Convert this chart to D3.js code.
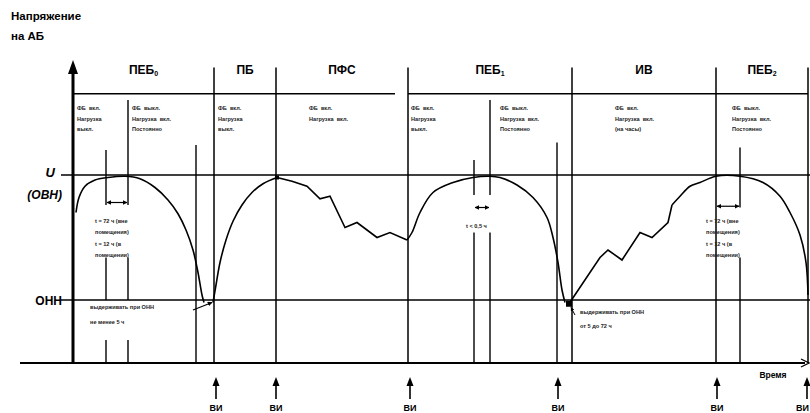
<!DOCTYPE html>
<html><head><meta charset="utf-8">
<script src="https://cdn.jsdelivr.net/npm/d3@7"></script>
<style>body{margin:0;background:#fff}svg{display:block}</style>
</head><body><svg id="c" width="810" height="413"></svg>
<script>
// ---- data (time units, voltage: 0 = ОНН, 1 = U(ОВН)) ----
const phaseNames = ["ПЕБ","ПБ","ПФС","ПЕБ","ИВ","ПЕБ"];
const phaseSubs  = ["0","","","1","","2"];
const phaseBounds = [0,141,203,335,499,643,735];
const viTimes = [143,203,337,485,644,734];

// ПЕБ0 dome
const peb0T = [3,6,12,22,35,52,67,82,95,105,113,120,125,129,131];
const peb0V = [0.70,0.82,0.91,0.96,0.98,0.99,0.97,0.90,0.80,0.69,0.56,0.40,0.22,0.04,-0.02];
// ПБ rise
const pbT = [140,143,147,153,160,169,179,190,204];
const pbV = [-0.02,0.12,0.30,0.48,0.63,0.76,0.86,0.93,0.98];
// ПФС zigzag
const pfsT = [204,219,234,247,257,272,284,304,317,334];
const pfsV = [0.98,0.95,0.91,0.81,0.83,0.58,0.62,0.50,0.54,0.48];
// ПЕБ1 dome
const peb1T = [334,339,347,360,380,400,417,427,444,460,474,480,485,489,492];
const peb1V = [0.48,0.54,0.70,0.86,0.94,0.98,0.99,0.98,0.92,0.82,0.66,0.50,0.30,0.08,-0.02];
// ИВ zigzag
const ivT = [496,527,535,549,567,579,595,599];
const ivV = [-0.03,0.34,0.40,0.32,0.54,0.50,0.62,0.76];
// ПЕБ2 dome
const peb2T = [599,607,617,627,643,667,690,707,717,727,733,735];
const peb2V = [0.76,0.83,0.91,0.94,0.99,0.99,0.94,0.83,0.70,0.52,0.30,0.04];

const notes = [
  {t:4,   lines:["ФБ  вкл.","Нагрузка","выкл."]},
  {t:59,  lines:["ФБ  выкл.","Нагрузка  вкл.","Постоянно"]},
  {t:145, lines:["ФБ  вкл.","Нагрузка","выкл."]},
  {t:236, lines:["ФБ  вкл.","Нагрузка  вкл."]},
  {t:338, lines:["ФБ  вкл.","Нагрузка","выкл."]},
  {t:427, lines:["ФБ  выкл.","Нагрузка  вкл.","Постоянно"]},
  {t:542, lines:["ФБ  вкл.","Нагрузка  вкл.","(на часы)"]},
  {t:659, lines:["ФБ  выкл.","Нагрузка  вкл.","Постоянно"]}
];
const durNotes = ["t = 72 ч (вне","помещения)","t = 12 ч (в","помещении)"];
const shortNote = "t < 0,5 ч";
const holdNote0 = ["выдерживать при ОНН","не менее 5 ч"];
const holdNote1 = ["выдерживать при ОНН","от 5 до 72 ч"];

// ---- drawing ----
const svg = d3.select("#c");
const x = d3.scaleLinear().domain([0,735]).range([73,808]);
const y = d3.scaleLinear().domain([0,1]).range([300,175]);
const vHead = 1.65, vTop = 1.86, vAxis = -0.504;
const F = "'Liberation Sans', Arial, sans-serif";

function ln(x1,y1,x2,y2,w){svg.append("line").attr("x1",x1).attr("y1",y1).attr("x2",x2).attr("y2",y2)
  .attr("stroke","#000").attr("stroke-width",w||1.4);}

// axis title
svg.append("text").attr("x",11).attr("y",20).attr("font-family",F).attr("font-weight","bold")
  .attr("font-size",11.5).text("Напряжение");
svg.append("text").attr("x",11).attr("y",40).attr("font-family",F).attr("font-weight","bold")
  .attr("font-size",11.5).text("на АБ");

// level lines
ln(61,y(1),810,y(1),1.5);
ln(61,y(0),810,y(0),1.5);

// header segments
const headSegs = [[0,141],[141,203],[203,322],[335,499],[499,643],[643,735]];
headSegs.forEach(s=>ln(x(s[0]),y(vHead),x(s[1]),y(vHead),1.6));
// phase separators
phaseBounds.slice(1).forEach(b=>ln(x(b),y(vTop),x(b),y(vAxis),1.5));

// header labels
phaseNames.forEach((n,i)=>{
  const cx = (x(phaseBounds[i])+x(phaseBounds[i+1]))/2;
  const t = svg.append("text").attr("x",cx).attr("y",y(1.81)).attr("text-anchor","middle")
    .attr("font-family",F).attr("font-weight","bold").attr("font-size",12).text(n);
  if(phaseSubs[i]) t.append("tspan").attr("font-size",7).attr("dy",2).text(phaseSubs[i]);
});

// notes
notes.forEach(n=>{
  n.lines.forEach((l,j)=>{
    svg.append("text").attr("x",x(n.t)).attr("y",y(1.52)+j*10.5).attr("font-family",F)
      .attr("font-size",5.6).attr("font-weight","bold").attr("fill","#222")
      .style("white-space","pre").text(l);
  });
});

// extra vertical lines
const vseg = (t,v1,v2)=>ln(x(t),y(v1),x(t),y(v2),1.4);
vseg(33,1.2,0.76); vseg(33,0.34,0); vseg(33,-0.32,vAxis);
vseg(55,1.6,0.76); vseg(55,0.34,0); vseg(55,-0.32,vAxis);
vseg(123,1.24,vAxis);
vseg(401,1.12,0.84); vseg(401,0.54,vAxis);
vseg(417,1.6,0.84); vseg(417,0.54,vAxis);
vseg(484,1.26,vAxis);
vseg(667,1.22,0.74); vseg(667,0.34,vAxis);

// dimension arrows
const defs = svg.append("defs");
defs.append("marker").attr("id","ah").attr("viewBox","0 0 10 10").attr("refX",9).attr("refY",5)
  .attr("markerWidth",4).attr("markerHeight",4).attr("orient","auto-start-reverse")
  .append("path").attr("d","M0,0L10,5L0,10z").attr("fill","#000");
function dim(t1,t2,v){svg.append("line").attr("x1",x(t1)+1).attr("x2",x(t2)-1).attr("y1",y(v)).attr("y2",y(v))
  .attr("stroke","#000").attr("stroke-width",1.2).attr("marker-start","url(#ah)").attr("marker-end","url(#ah)");}
dim(33,55,0.78); dim(401,417,0.74); dim(643,667,0.75);

// duration notes
function noteBlock(t,v,lines,step){lines.forEach((l,j)=>svg.append("text").attr("x",x(t)).attr("y",y(v)+j*step)
  .attr("font-family",F).attr("font-size",5.6).attr("font-weight","bold").attr("fill","#222").text(l));}
noteBlock(22,0.62,durNotes,11.5);
noteBlock(633,0.62,durNotes,11.5);
noteBlock(393,0.58,[shortNote],0);
noteBlock(17,-0.07,holdNote0,15);
noteBlock(507,-0.11,holdNote1,14);

// curves
const line = d3.line().x(d=>x(d[0])).y(d=>y(d[1]));
const zip=(a,b)=>a.map((t,i)=>[t,b[i]]);
[[peb0T,peb0V,d3.curveCatmullRom],[pbT,pbV,d3.curveCatmullRom],[pfsT,pfsV,d3.curveLinear],
 [peb1T,peb1V,d3.curveCatmullRom],[ivT,ivV,d3.curveLinear],[peb2T,peb2V,d3.curveCatmullRom]]
 .forEach(s=>svg.append("path").attr("d",line.curve(s[2])(zip(s[0],s[1])))
   .attr("fill","none").attr("stroke","#000").attr("stroke-width",1.6));

// markers on ОНН
svg.append("rect").attr("x",x(496)-3).attr("y",y(-0.03)-3).attr("width",6).attr("height",6).attr("fill","#000");
svg.append("rect").attr("x",x(204)-2).attr("y",y(0.98)-2).attr("width",4).attr("height",4).attr("fill","#000");
svg.append("line").attr("x1",x(120)).attr("y1",y(-0.08)).attr("x2",x(139)).attr("y2",y(-0.02))
  .attr("stroke","#000").attr("stroke-width",1.2).attr("marker-end","url(#ah)");
svg.append("line").attr("x1",x(502)).attr("y1",y(-0.12)).attr("x2",x(498)).attr("y2",y(-0.06))
  .attr("stroke","#000").attr("stroke-width",1).attr("marker-end","url(#ah)");

// level labels
svg.append("text").attr("x",55).attr("y",y(1)+2).attr("text-anchor","end").attr("font-family",F)
  .attr("font-weight","bold").attr("font-style","italic").attr("font-size",13).text("U");
svg.append("text").attr("x",62).attr("y",y(1)+24).attr("text-anchor","end").attr("font-family",F)
  .attr("font-weight","bold").attr("font-style","italic").attr("font-size",12).text("(ОВН)");
svg.append("text").attr("x",62).attr("y",y(0)+5).attr("text-anchor","end").attr("font-family",F)
  .attr("font-weight","bold").attr("font-size",12).text("ОНН");

// axes
ln(20,y(vAxis),805,y(vAxis),2);
svg.append("path").attr("d",`M${x(728)},${y(vAxis)-4}L${x(736)},${y(vAxis)}L${x(728)},${y(vAxis)+4}`)
  .attr("fill","none").attr("stroke","#000").attr("stroke-width",1.2);
ln(x(0),y(vAxis),x(0),70,3);
svg.append("path").attr("d",`M${x(0)-5},74L${x(0)},60L${x(0)+5},74z`).attr("fill","#000");
svg.append("text").attr("x",773).attr("y",y(vAxis)+15).attr("text-anchor","middle").attr("font-family",F)
  .attr("font-weight","bold").attr("font-size",8.5).text("Время");

// ВИ arrows
viTimes.forEach((t,i)=>{
  ln(x(t),399,x(t),384,1.6);
  svg.append("path").attr("d",`M${x(t)-3.5},386L${x(t)},377L${x(t)+3.5},386z`).attr("fill","#000");
  const last = i===viTimes.length-1;
  svg.append("text").attr("x",last?809:x(t)).attr("y",411).attr("text-anchor",last?"end":"middle")
    .attr("font-family",F).attr("font-weight","bold").attr("font-size",9).text("ВИ");
});
</script></body></html>
